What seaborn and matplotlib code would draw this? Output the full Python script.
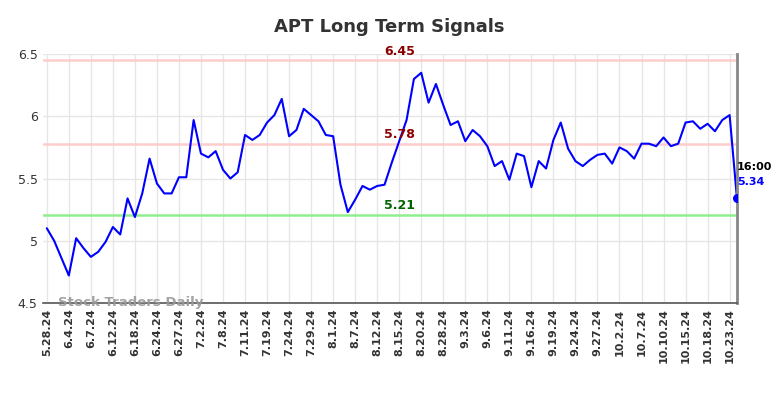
import numpy as np
import pandas as pd
import matplotlib
matplotlib.use('Agg')
import matplotlib.pyplot as plt
import seaborn as sns

# 数据：每日收盘价（按交易日顺序）
prices = [5.10, 5.00, 4.86, 4.72, 5.02, 4.94, 4.87, 4.91, 4.99, 5.11,
          5.05, 5.34, 5.19, 5.38, 5.66, 5.46, 5.38, 5.38, 5.51, 5.51,
          5.97, 5.70, 5.67, 5.72, 5.57, 5.50, 5.55, 5.85, 5.81, 5.85,
          5.95, 6.01, 6.14, 5.84, 5.89, 6.06, 6.01, 5.96, 5.85, 5.84,
          5.45, 5.23, 5.33, 5.44, 5.41, 5.44, 5.45, 5.63, 5.80, 5.97,
          6.30, 6.35, 6.11, 6.26, 6.09, 5.93, 5.96, 5.80, 5.89, 5.84,
          5.76, 5.60, 5.64, 5.49, 5.70, 5.68, 5.43, 5.64, 5.58, 5.81,
          5.95, 5.74, 5.64, 5.60, 5.65, 5.69, 5.70, 5.62, 5.75, 5.72,
          5.66, 5.78, 5.78, 5.76, 5.83, 5.76, 5.78, 5.95, 5.96, 5.90,
          5.94, 5.88, 5.97, 6.01, 5.34]

tick_labels = ['5.28.24', '6.4.24', '6.7.24', '6.12.24', '6.18.24', '6.24.24',
               '6.27.24', '7.2.24', '7.8.24', '7.11.24', '7.19.24', '7.24.24',
               '7.29.24', '8.1.24', '8.7.24', '8.12.24', '8.15.24', '8.20.24',
               '8.28.24', '9.3.24', '9.6.24', '9.11.24', '9.16.24', '9.19.24',
               '9.24.24', '9.27.24', '10.2.24', '10.7.24', '10.10.24', '10.15.24',
               '10.18.24', '10.23.24']
tick_step = 3

# 信号线
resist_hi = 6.45
resist_mid = 5.78
support = 5.21
last_time = '16:00'

df = pd.DataFrame({'idx': np.arange(len(prices)), 'price': prices})

sns.set_style('whitegrid')
plt.rcParams['font.family'] = ['DejaVu Sans']

fig = plt.figure(figsize=(7.84, 3.98), dpi=100)
ax = fig.add_axes([0.055, 0.239, 0.885, 0.625])

sns.lineplot(data=df, x='idx', y='price', color='#0000ff', linewidth=1.5, ax=ax)

n = len(prices)
last = n - 1
ax.axhline(resist_hi, color='#ffcccc', linewidth=1.8, zorder=1)
ax.axhline(resist_mid, color='#ffcccc', linewidth=1.8, zorder=1)
ax.axhline(support, color='#90ee90', linewidth=1.8, zorder=1)

mid = n // 2 + 1
ax.text(mid, resist_hi + 0.02, f'{resist_hi:.2f}', color='#8b0000', fontsize=9,
        fontweight='bold', ha='center', va='bottom')
ax.text(mid, resist_mid + 0.02, f'{resist_mid:.2f}', color='#8b0000', fontsize=9,
        fontweight='bold', ha='center', va='bottom')
ax.text(mid, support + 0.02, f'{support:.2f}', color='#006400', fontsize=9,
        fontweight='bold', ha='center', va='bottom')

# 最新价标记
ax.scatter([last], [prices[-1]], color='#0000ff', s=30, zorder=5)
ax.text(last, prices[-1] + 0.21, last_time, color='black', fontsize=8,
        fontweight='bold', ha='left', va='bottom')
ax.text(last, prices[-1] + 0.09, f'{prices[-1]:.2f}', color='#0000ff', fontsize=8,
        fontweight='bold', ha='left', va='bottom')

ax.text(1.5, 4.5, 'Stock Traders Daily', color='#999999', fontsize=9.5,
        fontweight='bold', ha='left', va='center', alpha=0.9)

ax.set_xlim(-0.5, last)
ax.set_ylim(4.5, 6.5)
ax.set_yticks([4.5, 5, 5.5, 6, 6.5])
ax.set_yticklabels(['4.5', '5', '5.5', '6', '6.5'], fontsize=9, color='#333333')
ax.set_xticks(np.arange(0, len(tick_labels) * tick_step, tick_step))
ax.set_xticklabels(tick_labels, rotation=90, fontsize=8, fontweight='bold', color='#333333')
ax.set_xlabel('')
ax.set_ylabel('')
ax.tick_params(axis='both', length=0, pad=4)
ax.grid(True, color='#e6e6e6', linewidth=1)

for s in ['left', 'top']:
    ax.spines[s].set_visible(False)
ax.spines['bottom'].set_color('#555555')
ax.spines['bottom'].set_linewidth(1.2)
ax.spines['right'].set_color('#888888')
ax.spines['right'].set_linewidth(2)

fig.suptitle('APT Long Term Signals', x=0.497, y=0.955, fontsize=13,
             fontweight='bold', color='#333333')

fig.savefig('out.png', dpi=100)
